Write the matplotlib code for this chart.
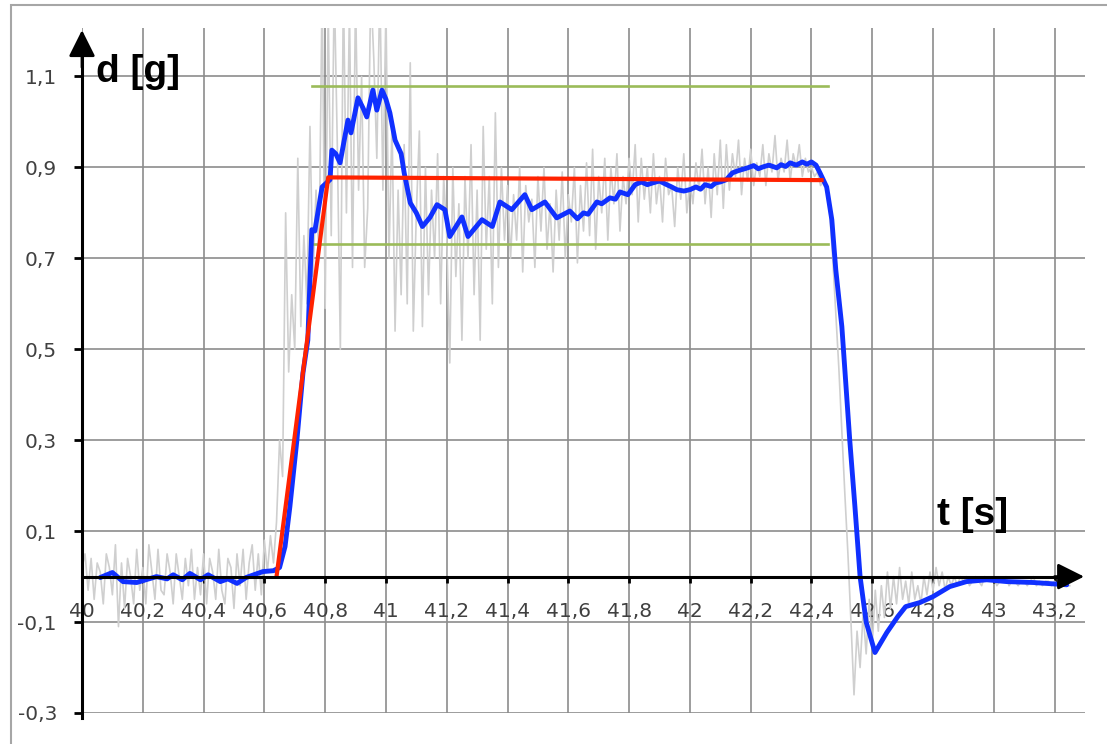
import numpy as np
import matplotlib.pyplot as plt
from matplotlib.patches import Rectangle

# raw samples, 10 ms apart, first one at 40.00 s
t0_raw = 40.0
dt_raw = 0.01
d_raw = [
    0.02, 0.05, -0.03, 0.04, -0.05, 0.03, 0.01, -0.06, 0.05, 0.02,      # 40.0
    -0.04, 0.07, -0.11, 0.03, -0.07, 0.04, 0.00, -0.06, 0.06, -0.03,    # 40.1
    0.02, -0.06, 0.07, 0.01, -0.05, 0.06, -0.03, -0.04, 0.05, 0.01,     # 40.2
    -0.06, 0.05, 0.00, -0.05, 0.04, -0.02, 0.06, -0.05, 0.02, -0.04,    # 40.3
    0.05, -0.06, 0.04, 0.01, -0.05, 0.06, -0.03, -0.06, 0.04, 0.02,     # 40.4
    -0.07, 0.05, -0.02, 0.06, -0.05, 0.03, 0.07, -0.03, 0.05, -0.04,    # 40.5
    0.08, 0.01, 0.09, 0.03, 0.12, 0.30, 0.22, 0.80, 0.45, 0.62,         # 40.6
    0.50, 0.92, 0.55, 0.75, 0.60, 0.99, 0.66, 0.85, 0.70, 1.30,         # 40.7
    0.59, 1.25, 0.75, 1.30, 0.95, 0.50, 1.30, 0.80, 1.25, 0.68,         # 40.8
    1.28, 0.85, 1.10, 0.68, 0.81, 1.30, 1.14, 0.92, 1.30, 0.85,         # 40.9
    1.25, 0.70, 1.00, 0.54, 0.85, 0.62, 0.95, 0.60, 1.13, 0.54,         # 41.0
    0.80, 0.98, 0.55, 0.90, 0.62, 0.85, 0.70, 0.93, 0.60, 0.88,         # 41.1
    0.75, 0.47, 0.90, 0.66, 0.82, 0.52, 0.88, 0.70, 0.95, 0.62,         # 41.2
    0.85, 0.52, 0.99, 0.72, 0.88, 0.60, 1.02, 0.68, 0.90, 0.74,         # 41.3
    0.86, 0.70, 0.84, 0.74, 0.90, 0.67, 0.86, 0.78, 0.83, 0.68,         # 41.4
    0.88, 0.76, 0.90, 0.72, 0.82, 0.67, 0.85, 0.74, 0.89, 0.70,         # 41.5
    0.84, 0.78, 0.90, 0.69, 0.86, 0.76, 0.91, 0.75, 0.94, 0.72,         # 41.6
    0.88, 0.80, 0.92, 0.74, 0.90, 0.82, 0.93, 0.76, 0.88, 0.82,         # 41.7
    0.92, 0.84, 0.95, 0.78, 0.92, 0.83, 0.90, 0.80, 0.93, 0.82,         # 41.8
    0.88, 0.78, 0.92, 0.84, 0.86, 0.77, 0.90, 0.83, 0.93, 0.80,         # 41.9
    0.87, 0.82, 0.91, 0.85, 0.94, 0.82, 0.90, 0.79, 0.93, 0.84,         # 42.0
    0.96, 0.81, 0.95, 0.85, 0.93, 0.88, 0.96, 0.84, 0.92, 0.87,         # 42.1
    0.94, 0.86, 0.91, 0.88, 0.95, 0.86, 0.93, 0.89, 0.97, 0.87,         # 42.2
    0.92, 0.89, 0.96, 0.87, 0.93, 0.90, 0.95, 0.88, 0.92, 0.89,         # 42.3
    0.90, 0.88, 0.89, 0.86, 0.87, 0.85, 0.80, 0.70, 0.58, 0.46,         # 42.4
    0.32, 0.18, 0.05, -0.10, -0.26, -0.12, -0.20, -0.08, -0.17, -0.05,  # 42.5
    -0.15, -0.03, -0.12, -0.02, -0.09, 0.01, -0.07, 0.00, -0.06, 0.02,  # 42.6
    -0.05, -0.01, -0.06, 0.01, -0.05, -0.02, -0.06, 0.00, -0.04, 0.01,  # 42.7
    -0.03, 0.02, -0.02, 0.01, -0.03, 0.00, -0.02, 0.00, -0.02, 0.00,    # 42.8
    -0.01, 0.00, -0.02, -0.01, 0.00, -0.01, -0.02, 0.00, -0.01, -0.01,  # 42.9
    0.00, -0.02, -0.01, -0.01, 0.00, -0.02, -0.01, -0.01, -0.02, -0.01, # 43.0
    -0.01, -0.02, -0.01, 0.00, -0.02, -0.01, -0.02, -0.01, -0.01, -0.02,  # 43.1
    -0.01, -0.02, -0.02, -0.01, -0.02, -0.02,                          # 43.2
]

# filtered signal
t_smooth = [40.06, 40.10, 40.135, 40.18, 40.21, 40.245, 40.28, 40.30, 40.33, 40.355,
            40.39, 40.415, 40.455, 40.48, 40.51, 40.54, 40.565, 40.595, 40.63, 40.65,
            40.668, 40.684, 40.707, 40.727, 40.743, 40.756, 40.766, 40.79, 40.816, 40.822,
            40.835, 40.849, 40.86, 40.875, 40.885, 40.908, 40.925, 40.937, 40.957, 40.97,
            40.987, 41.0, 41.013, 41.03, 41.05, 41.06, 41.08, 41.10, 41.12, 41.145,
            41.168, 41.194, 41.21, 41.25, 41.27, 41.316, 41.35, 41.375, 41.414, 41.457,
            41.48, 41.523, 41.562, 41.605, 41.63, 41.65, 41.665, 41.694, 41.71, 41.737,
            41.755, 41.77, 41.796, 41.82, 41.84, 41.86, 41.878, 41.90, 41.924, 41.94,
            41.957, 41.98, 42.0, 42.02, 42.035, 42.05, 42.07, 42.085, 42.1, 42.12,
            42.14, 42.16, 42.19, 42.21, 42.225, 42.24, 42.26, 42.286, 42.30, 42.315,
            42.33, 42.35, 42.37, 42.385, 42.40, 42.415, 42.428, 42.45, 42.467, 42.48,
            42.5, 42.51, 42.526, 42.543, 42.56, 42.58, 42.609, 42.648, 42.684, 42.71,
            42.757, 42.8, 42.855, 42.91, 42.977, 43.043, 43.13, 43.24]
d_smooth = [-0.002, 0.009, -0.011, -0.013, -0.007, 0.0, -0.005, 0.004, -0.007, 0.007,
            -0.007, 0.004, -0.011, -0.005, -0.015, -0.002, 0.004, 0.011, 0.013, 0.02,
            0.066, 0.154, 0.30, 0.448, 0.52, 0.763, 0.76, 0.857, 0.873, 0.938,
            0.93, 0.91, 0.95, 1.004, 0.976, 1.053, 1.03, 1.011, 1.07, 1.026,
            1.07, 1.05, 1.02, 0.96, 0.93, 0.888, 0.822, 0.80, 0.77, 0.79,
            0.818, 0.807, 0.748, 0.791, 0.748, 0.785, 0.77, 0.824, 0.807, 0.84,
            0.807, 0.824, 0.789, 0.804, 0.787, 0.80, 0.797, 0.824, 0.82, 0.833,
            0.83, 0.846, 0.84, 0.862, 0.868, 0.862, 0.866, 0.87, 0.862, 0.857,
            0.851, 0.848, 0.851, 0.857, 0.852, 0.862, 0.858, 0.866, 0.868, 0.873,
            0.888, 0.893, 0.899, 0.904, 0.897, 0.901, 0.905, 0.899, 0.906, 0.902,
            0.91, 0.905, 0.912, 0.907, 0.912, 0.905, 0.888, 0.857, 0.785, 0.675,
            0.55, 0.455, 0.30, 0.154, 0.0, -0.10, -0.167, -0.123, -0.088, -0.066,
            -0.057, -0.044, -0.022, -0.011, -0.007, -0.011, -0.013, -0.018]

# idealised step response
t_step = [40.64, 40.81, 42.44]
d_step = [0.0, 0.878, 0.872]

# tolerance band
t_band = [40.757, 42.455]
d_band_hi = 1.08
d_band_lo = 0.732

x_ticks = [40.0, 40.2, 40.4, 40.6, 40.8, 41.0, 41.2, 41.4, 41.6, 41.8,
           42.0, 42.2, 42.4, 42.6, 42.8, 43.0, 43.2]
x_labels = ['40', '40,2', '40,4', '40,6', '40,8', '41', '41,2', '41,4', '41,6', '41,8',
            '42', '42,2', '42,4', '42,6', '42,8', '43', '43,2']
y_ticks = [-0.3, -0.1, 0.1, 0.3, 0.5, 0.7, 0.9, 1.1]
y_labels = ['-0,3', '-0,1', '0,1', '0,3', '0,5', '0,7', '0,9', '1,1']

t_raw = t0_raw + dt_raw * np.arange(len(d_raw))

W, H = 1107, 744
fig = plt.figure(figsize=(W / 100, H / 100), dpi=100)
ax = fig.add_axes([82 / W, 31 / H, 1003 / W, 685 / H])
ax.set_xlim(40, 43.3)
ax.set_ylim(-0.3, 1.2066)

ax.plot(t_raw, d_raw, color='#cfcfcf', lw=1.2, zorder=2)
ax.plot(t_band, [d_band_hi] * 2, color='#9bbb59', lw=1.9, zorder=3)
ax.plot(t_band, [d_band_lo] * 2, color='#9bbb59', lw=1.9, zorder=3)
ax.plot(t_smooth, d_smooth, color='#1030ff', lw=3.5, zorder=4,
        solid_joinstyle='round', solid_capstyle='round')
ax.plot(t_step, d_step, color='#ff2200', lw=3.0, zorder=5, solid_capstyle='butt')

ax.set_xticks(x_ticks, x_labels)
ax.set_yticks(y_ticks, y_labels)
ax.grid(True, color='#8c8c8c', lw=1.2, zorder=1)
ax.set_axisbelow(True)

for side in ['top', 'right']:
    ax.spines[side].set_visible(False)
ax.spines['bottom'].set_position(('data', 0))
ax.spines['bottom'].set_bounds(40, 43.27)
ax.spines['left'].set_bounds(-0.31, 1.18)
for side in ['bottom', 'left']:
    ax.spines[side].set_linewidth(2.2)
    ax.spines[side].set_color('black')
    ax.spines[side].set_zorder(6)

ax.tick_params(axis='x', direction='out', length=4, width=2, pad=14,
               labelsize=14.5, labelcolor='#404040', color='black')
ax.tick_params(axis='y', direction='out', length=6, width=2, pad=12,
               labelsize=14.5, labelcolor='#404040', color='black')

# arrow heads on both axes
arrow = dict(arrowstyle='-|>,head_length=0.9,head_width=0.45', color='black',
             lw=2.0, mutation_scale=18, shrinkA=0, shrinkB=0)
ax.annotate('', xy=(43.297, 0), xytext=(43.2, 0), arrowprops=arrow,
            annotation_clip=False, zorder=7)
ax.annotate('', xy=(40, 1.202), xytext=(40, 1.12), arrowprops=arrow,
            annotation_clip=False, zorder=7)

ax.text(40.045, 1.088, 'd [g]', fontsize=28, fontweight='bold',
        family='Liberation Sans', ha='left', va='baseline')
ax.text(42.812, 0.114, 't [s]', fontsize=28, fontweight='bold',
        family='Liberation Sans', ha='left', va='baseline')

# outer frame of the chart area
fig.patches.append(Rectangle((11 / W, -0.1), 2, 0.1 + 739 / H, transform=fig.transFigure,
                             fill=False, edgecolor='#a6a6a6', lw=1.5))

fig.savefig('out.png', dpi=100)
